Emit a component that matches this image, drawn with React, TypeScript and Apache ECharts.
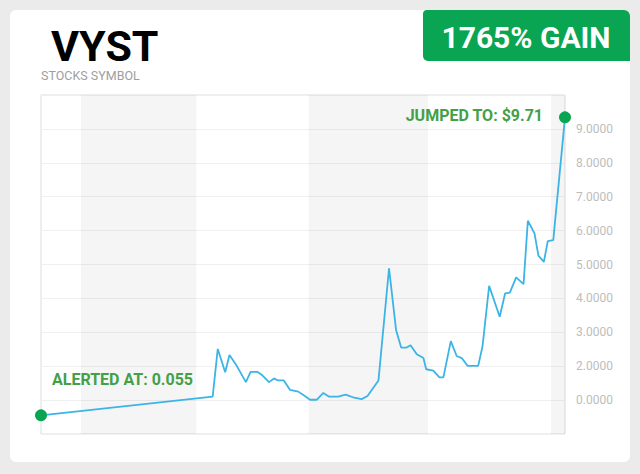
import React, { useEffect, useRef } from "react";
import * as echarts from "echarts";

// x positions in days, y values in axis units
const days = [
  0, 43.9, 45.2, 47.1, 48.2, 49.8, 52.4, 53.6, 55.4, 56.6, 58.3, 59.6, 60.6, 62.1,
  63.7, 65.8, 67.1, 68.8, 70.5, 72.2, 73.7, 76.0, 77.9, 80.1, 82.0, 83.5, 86.3,
  89.0, 90.8, 92.1, 93.5, 94.5, 96.1, 97.8, 98.5, 100.3, 101.9, 102.9, 104.8,
  106.3, 107.6, 109.1, 111.8, 112.9, 114.6, 117.3, 118.7, 119.9, 121.5, 123.4,
  124.5, 126.2, 127.2, 128.6, 129.6, 131.0, 134.0,
];
const prices = [
  0.55, 1.1, 2.51, 1.82, 2.33, 2.06, 1.53, 1.83, 1.83, 1.73, 1.53, 1.64, 1.58, 1.58,
  1.3, 1.25, 1.15, 1.01, 1.01, 1.21, 1.1, 1.1, 1.16, 1.07, 1.03, 1.12, 1.58,
  4.89, 3.07, 2.55, 2.55, 2.62, 2.35, 2.24, 1.91, 1.87, 1.67, 1.67, 2.74,
  2.3, 2.24, 2.01, 2.01, 2.58, 4.37, 3.46, 4.15, 4.17, 4.62, 4.42,
  6.29, 5.92, 5.26, 5.08, 5.69, 5.72, 9.34,
];
const yTickLabels = ["", "0.0000", "2.0000", "3.0000", "4.0000", "5.0000", "6.0000", "7.0000", "8.0000", "9.0000", ""];
const bandStarts = [10.2, 68.4, 130.4];
const bandEnds = [39.7, 99.0, 134];

const symbol = "VYST";
const subtitle = "STOCKS SYMBOL";
const badgeText = "1765% GAIN";
const alertLabel = "ALERTED AT: 0.055";
const jumpLabel = "JUMPED TO: $9.71";

const GREEN = "#0aa552";
const LABEL_GREEN = "#43a047";
const FONT = "Roboto, 'Noto Sans', sans-serif";

export default function App() {
  const ref = useRef<HTMLDivElement>(null);
  useEffect(() => {
    if (!ref.current) return;
    const chart = echarts.init(ref.current, undefined, { renderer: "svg" });
    const n = days.length;
    const data = days.map((d, i) => {
      const item: any = { value: [d, prices[i]] };
      if (i === 0) {
        item.symbol = "circle";
        item.symbolSize = 12;
        item.itemStyle = { color: GREEN };
        item.label = {
          show: true,
          formatter: alertLabel,
          position: "right",
          distance: 5,
          offset: [0, -36],
          color: LABEL_GREEN,
          fontSize: 16,
          fontWeight: "bold",
          fontFamily: FONT,
        };
      } else if (i === n - 1) {
        item.symbol = "circle";
        item.symbolSize = 12;
        item.itemStyle = { color: GREEN };
        item.label = {
          show: true,
          formatter: jumpLabel,
          position: "left",
          distance: 16,
          offset: [0, -2],
          color: LABEL_GREEN,
          fontSize: 16,
          fontWeight: "bold",
          fontFamily: FONT,
        };
      } else {
        item.symbol = "none";
      }
      return item;
    });

    chart.setOption({
      animation: false,
      backgroundColor: "#ebebeb",
      textStyle: { fontFamily: FONT },
      grid: {
        left: 41,
        right: 75,
        top: 95,
        bottom: 40,
        show: true,
        backgroundColor: "transparent",
        borderColor: "#dcdcdc",
        borderWidth: 1,
      },
      xAxis: {
        type: "value",
        min: 0,
        max: 134,
        show: true,
        axisLine: { show: false },
        axisTick: { show: false },
        axisLabel: { show: false },
        splitLine: { show: false },
      },
      yAxis: {
        type: "value",
        position: "right",
        min: 0,
        max: 10,
        interval: 1,
        axisLine: { show: false },
        axisTick: { show: false },
        axisLabel: {
          color: "#bdbdbd",
          fontSize: 12,
          margin: 11,
          fontFamily: FONT,
          formatter: (v: number) => yTickLabels[Math.round(v)] ?? "",
        },
        splitLine: {
          show: true,
          lineStyle: { color: "#f0f0f0", width: 1 },
        },
      },
      graphic: {
        elements: [
          {
            type: "rect",
            z: -10,
            shape: { x: 10, y: 10, width: 620, height: 452, r: 6 },
            style: { fill: "#ffffff" },
          },
          {
            type: "rect",
            z: 10,
            shape: { x: 423, y: 10, width: 207, height: 51, r: [4, 6, 0, 5] },
            style: { fill: GREEN },
          },
          {
            type: "text",
            z: 11,
            x: 526,
            y: 37,
            style: {
              text: badgeText,
              fill: "#ffffff",
              font: `bold 30px ${FONT}`,
              align: "center",
              verticalAlign: "middle",
            },
          },
          {
            type: "text",
            z: 11,
            x: 51,
            y: 46,
            style: {
              text: symbol,
              fill: "#000000",
              font: `bold 43px ${FONT}`,
              align: "left",
              verticalAlign: "middle",
            },
          },
          {
            type: "text",
            z: 11,
            x: 41,
            y: 75,
            style: {
              text: subtitle,
              fill: "#9e9e9e",
              font: `12.5px ${FONT}`,
              align: "left",
              verticalAlign: "middle",
            },
          },
        ],
      },
      series: [
        {
          type: "line",
          data,
          showSymbol: true,
          lineStyle: { color: "#3cb4e6", width: 1.8 },
          itemStyle: { color: GREEN },
          z: 5,
          markArea: {
            silent: true,
            itemStyle: { color: "rgba(0,0,0,0.04)" },
            data: bandStarts.map((s, i) => [{ xAxis: s }, { xAxis: bandEnds[i] }]),
          },
        },
      ],
    });
    return () => chart.dispose();
  }, []);
  return (
    <div
      ref={ref}
      style={{ position: "absolute", left: 0, top: 0, width: 640, height: 474 }}
    />
  );
}
